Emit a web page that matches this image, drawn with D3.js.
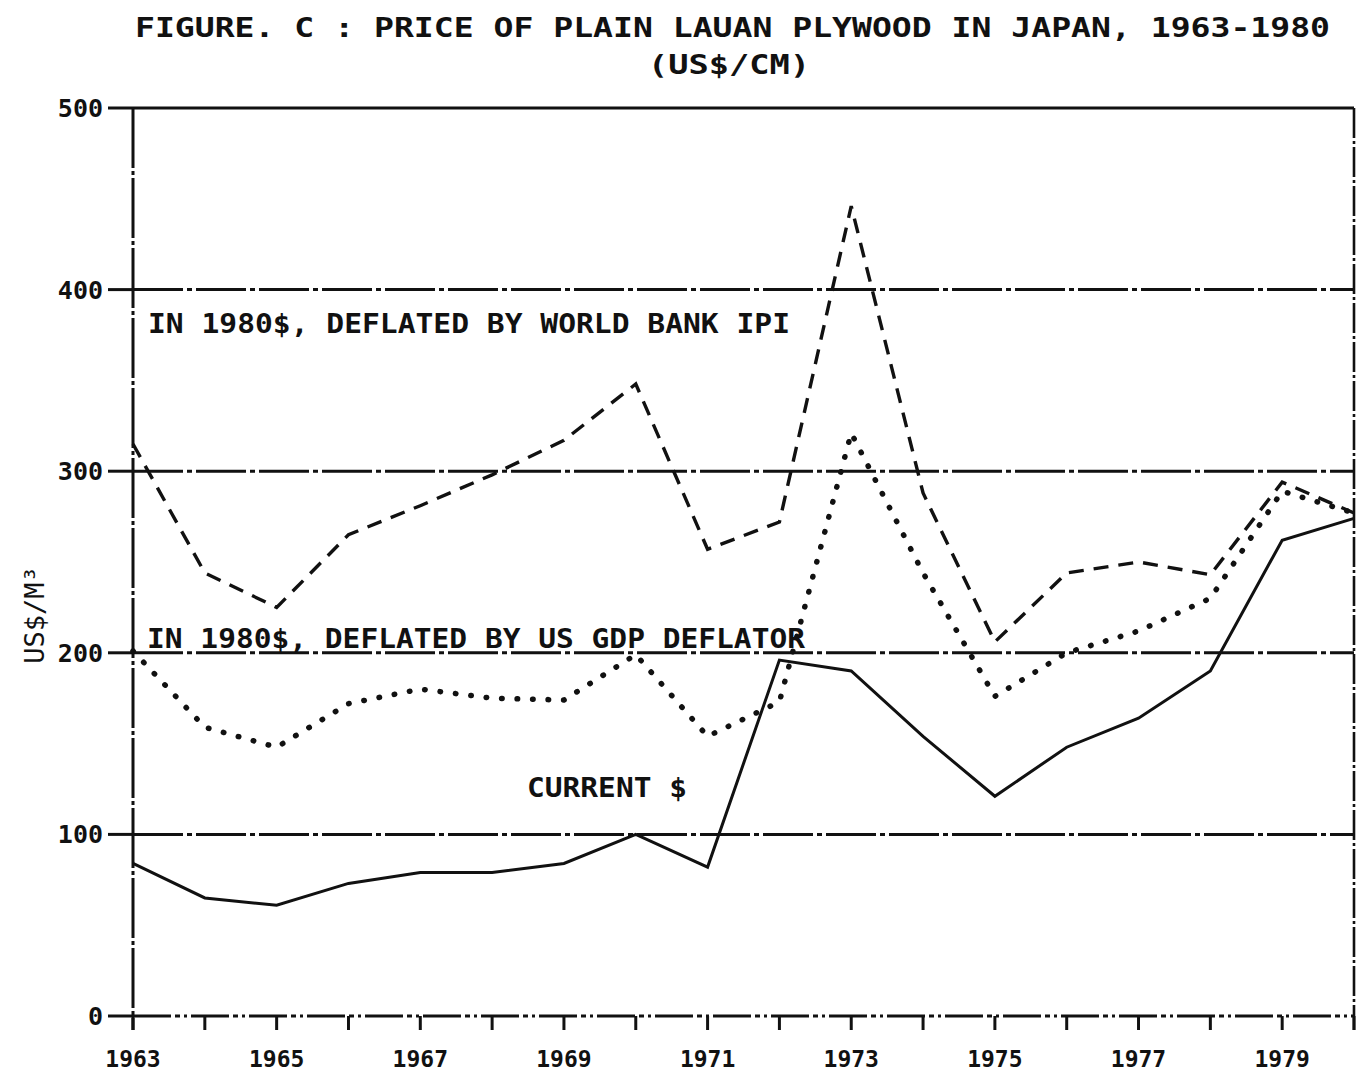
<!DOCTYPE html>
<html>
<head>
<meta charset="utf-8">
<script src="https://cdn.jsdelivr.net/npm/d3@7"></script>
<style>
  body { margin: 0; background: #fff; }
  text { font-family: "DejaVu Sans Mono", "Liberation Mono", monospace; fill: #111; }
</style>
</head>
<body>
<div id="chart"></div>
<script>
"use strict";

// == DATA ==
var years = [1963, 1964, 1965, 1966, 1967, 1968, 1969, 1970, 1971,
             1972, 1973, 1974, 1975, 1976, 1977, 1978, 1979, 1980];
var worldBankIpi = [315, 244, 225, 265, 281, 298, 317, 348, 257,
                    272, 446, 288, 206, 244, 250, 243, 294, 277];
var usGdpDeflator = [201, 159, 148, 172, 180, 175, 174, 199, 154,
                     173, 321, 244, 176, 200, 212, 230, 289, 277];
var currentDollars = [84, 65, 61, 73, 79, 79, 84, 100, 82,
                      196, 190, 154, 121, 148, 164, 190, 262, 274];
var yTicks = [0, 100, 200, 300, 400, 500];
var xLabelYears = [1963, 1965, 1967, 1969, 1971, 1973, 1975, 1977, 1979];

var width = 1367,
    height = 1079;

var svg = d3.select("#chart")
            .append("svg")
            .attr("width", width)
            .attr("height", height);

var x = d3.scaleLinear()
  .domain([1963, 1980])
  .range([133, 1354]);

var y = d3.scaleLinear()
  .domain([0, 500])
  .range([1016, 108]);

var ink = "#111";

// == TITLE ==
svg.append("text")
  .attr("x", 135).attr("y", 37)
  .attr("textLength", 1195).attr("lengthAdjust", "spacingAndGlyphs")
  .style("font-size", "27px")
  .style("font-weight", "bold")
  .text("FIGURE. C : PRICE OF PLAIN LAUAN PLYWOOD IN JAPAN, 1963-1980");

svg.append("text")
  .attr("x", 648).attr("y", 74)
  .attr("textLength", 162).attr("lengthAdjust", "spacingAndGlyphs")
  .style("font-size", "27px")
  .style("font-weight", "bold")
  .text("(US$/CM)");

// == GRID (dash-dot plotter lines) ==
svg.append("g")
  .selectAll("line")
  .data(yTicks.filter(function(d){ return d > 0; }))
  .enter()
  .append("line")
  .attr("x1", x(1963)).attr("x2", x(1980))
  .attr("y1", function(d){ return y(d); })
  .attr("y2", function(d){ return y(d); })
  .attr("stroke", ink)
  .attr("stroke-width", 3)
  .attr("stroke-dasharray", function(d){ return d == 500 ? null : "50,4,5,4"; });

// bottom axis line
svg.append("line")
  .attr("x1", x(1963)).attr("x2", x(1980))
  .attr("y1", y(0)).attr("y2", y(0))
  .attr("stroke", ink).attr("stroke-width", 3)
  .attr("stroke-dasharray", "38,4,5,4,3,4");

// left and right frame
svg.append("line")
  .attr("x1", x(1963)).attr("x2", x(1963))
  .attr("y1", y(500)).attr("y2", y(0) + 14)
  .attr("stroke", ink).attr("stroke-width", 3)
  .attr("stroke-dasharray", "60,3,4,3");

svg.append("line")
  .attr("x1", x(1980)).attr("x2", x(1980))
  .attr("y1", y(500)).attr("y2", y(0) + 14)
  .attr("stroke", ink).attr("stroke-width", 2.6)
  .attr("stroke-dasharray", "30,3,3,3");

// y ticks + labels
var yAxis = svg.append("g");
yAxis.selectAll("line")
  .data(yTicks)
  .enter()
  .append("line")
  .attr("x1", 108).attr("x2", x(1963))
  .attr("y1", function(d){ return y(d); })
  .attr("y2", function(d){ return y(d); })
  .attr("stroke", ink).attr("stroke-width", 3);

yAxis.selectAll("text")
  .data(yTicks)
  .enter()
  .append("text")
  .attr("x", 103)
  .attr("y", function(d){ return y(d) + 9; })
  .attr("text-anchor", "end")
  .style("font-size", "25px")
  .style("font-weight", "bold")
  .text(function(d){ return d; });

// x ticks (every year) + labels (every other year)
var xAxis = svg.append("g");
xAxis.selectAll("line")
  .data(years)
  .enter()
  .append("line")
  .attr("x1", function(d){ return x(d); })
  .attr("x2", function(d){ return x(d); })
  .attr("y1", y(0)).attr("y2", y(0) + 14)
  .attr("stroke", ink).attr("stroke-width", 3);

xAxis.selectAll("text")
  .data(xLabelYears)
  .enter()
  .append("text")
  .attr("x", function(d){ return x(d); })
  .attr("y", 1067)
  .attr("text-anchor", "middle")
  .style("font-size", "23px")
  .style("font-weight", "bold")
  .text(function(d){ return d; });

// y axis title
svg.append("text")
  .attr("transform", "translate(44,615) rotate(-90)")
  .attr("text-anchor", "middle")
  .style("font-size", "27px")
  .text("US$/M³");

// == SERIES ==
var line = d3.line()
  .x(function(d){ return x(d[0]); })
  .y(function(d){ return y(d[1]); });

function pairs(vals) {
  return years.map(function(yr, i){ return [yr, vals[i]]; });
}

svg.append("path")
  .datum(pairs(worldBankIpi))
  .attr("d", line)
  .attr("fill", "none")
  .attr("stroke", ink)
  .attr("stroke-width", 3.4)
  .attr("stroke-dasharray", "15,10");

svg.append("path")
  .datum(pairs(usGdpDeflator))
  .attr("d", line)
  .attr("fill", "none")
  .attr("stroke", ink)
  .attr("stroke-width", 5.5)
  .attr("stroke-linecap", "round")
  .attr("stroke-dasharray", "0.5,15");

svg.append("path")
  .datum(pairs(currentDollars))
  .attr("d", line)
  .attr("fill", "none")
  .attr("stroke", ink)
  .attr("stroke-width", 3);

// == LABELS ON THE LINES ==
svg.append("text")
  .attr("x", 148).attr("y", 333)
  .attr("textLength", 642).attr("lengthAdjust", "spacingAndGlyphs")
  .style("font-size", "26px")
  .style("font-weight", "bold")
  .text("IN 1980$, DEFLATED BY WORLD BANK IPI");

svg.append("text")
  .attr("x", 147).attr("y", 648)
  .attr("textLength", 658).attr("lengthAdjust", "spacingAndGlyphs")
  .style("font-size", "26px")
  .style("font-weight", "bold")
  .text("IN 1980$, DEFLATED BY US GDP DEFLATOR");

svg.append("text")
  .attr("x", 527).attr("y", 797)
  .attr("textLength", 160).attr("lengthAdjust", "spacingAndGlyphs")
  .style("font-size", "26px")
  .style("font-weight", "bold")
  .text("CURRENT $");
</script>
</body>
</html>
